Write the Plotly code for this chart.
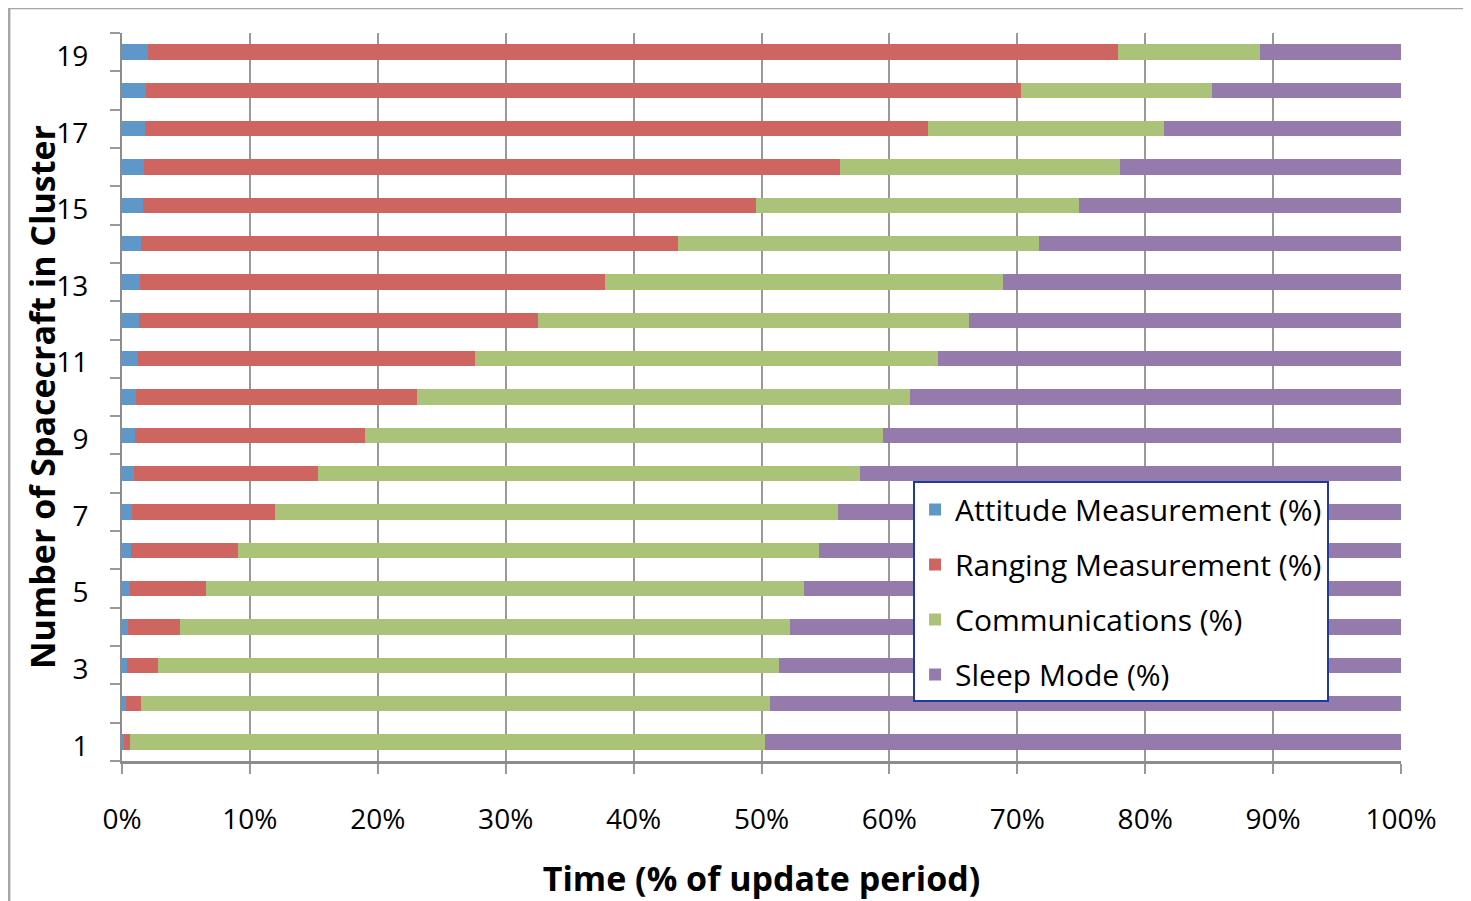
import plotly.graph_objects as go

categories = list(range(1, 20))
series_names = ["Attitude Measurement (%)", "Ranging Measurement (%)",
                "Communications (%)", "Sleep Mode (%)"]
attitude = [0.15, 0.28, 0.39, 0.49, 0.59, 0.70, 0.80, 0.91, 1.02, 1.09,
            1.22, 1.33, 1.41, 1.51, 1.61, 1.72, 1.80, 1.90, 2.03]
ranging = [0.45, 1.22, 2.41, 4.01, 6.01, 8.40, 11.20, 14.39, 17.98, 22.01,
           26.38, 31.17, 36.39, 41.99, 47.99, 54.38, 61.20, 68.40, 75.87]
communications = [49.7, 49.2, 48.6, 47.7, 46.7, 45.4, 44.0, 42.4, 40.5, 38.5,
                  36.2, 33.7, 31.1, 28.2, 25.2, 21.9, 18.5, 14.9, 11.1]
sleep = [49.7, 49.3, 48.6, 47.8, 46.7, 45.5, 44.0, 42.3, 40.5, 38.4,
         36.2, 33.8, 31.1, 28.3, 25.2, 22.0, 18.5, 14.8, 11.0]
x_tickvals = list(range(0, 101, 10))
x_ticklabels = ["0%", "10%", "20%", "30%", "40%", "50%", "60%", "70%", "80%", "90%", "100%"]
y_ticks = [1, 3, 5, 7, 9, 11, 13, 15, 17, 19]

colors = ["#5f97c8", "#cf6561", "#aac379", "#957bab"]
FONT = "Open Sans"

fig = go.Figure()
for name, vals, col in zip(series_names, [attitude, ranging, communications, sleep], colors):
    fig.add_trace(go.Bar(
        y=categories, x=vals, orientation="h", name=name,
        marker=dict(color=col, line=dict(width=0)), width=0.4,
        legendgroup=name,
    ))

grid = "#999999"
fig.update_layout(
    width=1463, height=893,
    barmode="stack",
    paper_bgcolor="white", plot_bgcolor="white",
    margin=dict(l=114, r=70, t=25, b=140, autoexpand=False),
    font=dict(family=FONT, size=28, color="black"),
    showlegend=True,
    legend=dict(
        x=0.6185, y=0.384, xanchor="left", yanchor="top",
        bgcolor="white", bordercolor="#1f3a9e", borderwidth=2,
        traceorder="grouped", tracegroupgap=13,
        font=dict(family=FONT, size=30, color="black"),
    ),
    xaxis=dict(
        range=[0, 100], tickmode="array", tickvals=x_tickvals, ticktext=x_ticklabels,
        showgrid=True, gridcolor=grid, gridwidth=2,
        showline=True, linecolor="#8c8c8c", linewidth=3,
        ticks="outside", ticklen=10, tickwidth=2, tickcolor=grid,
        ticklabelstandoff=21, zeroline=False, automargin=False,
        title=dict(text="<b>Time (% of update period)</b>",
                   font=dict(family=FONT, size=34), standoff=32),
    ),
    yaxis=dict(
        range=[0.5, 19.5], tickvals=y_ticks,
        showgrid=False, zeroline=False, automargin=False,
        showline=True, linecolor="#8c8c8c", linewidth=2,
        ticks="outside", ticklen=10, tickcolor="rgba(0,0,0,0)",
        ticklabelstandoff=16, ticklabelshift=4,
        minor=dict(tickmode="linear", tick0=0.5, dtick=1, ticks="outside",
                   ticklen=10, tickwidth=2, tickcolor=grid, showgrid=False),
    ),
    annotations=[dict(
        text="<b>Number of Spacecraft in Cluster</b>", textangle=-90,
        xref="paper", yref="paper", x=-0.0625, y=0.5,
        xanchor="center", yanchor="middle", showarrow=False,
        font=dict(family=FONT, size=34, color="black"),
    )],
    shapes=[
        dict(type="line", xref="paper", yref="paper", x0=-0.0884, x1=-0.0884,
             y0=-0.3, y1=1.0347, line=dict(color="#a6a6a6", width=3)),
        dict(type="line", xref="paper", yref="paper", x0=-0.0884, x1=1.1,
             y0=1.0347, y1=1.0347, line=dict(color="#a6a6a6", width=3)),
    ],
)

fig.write_html("out.html")
